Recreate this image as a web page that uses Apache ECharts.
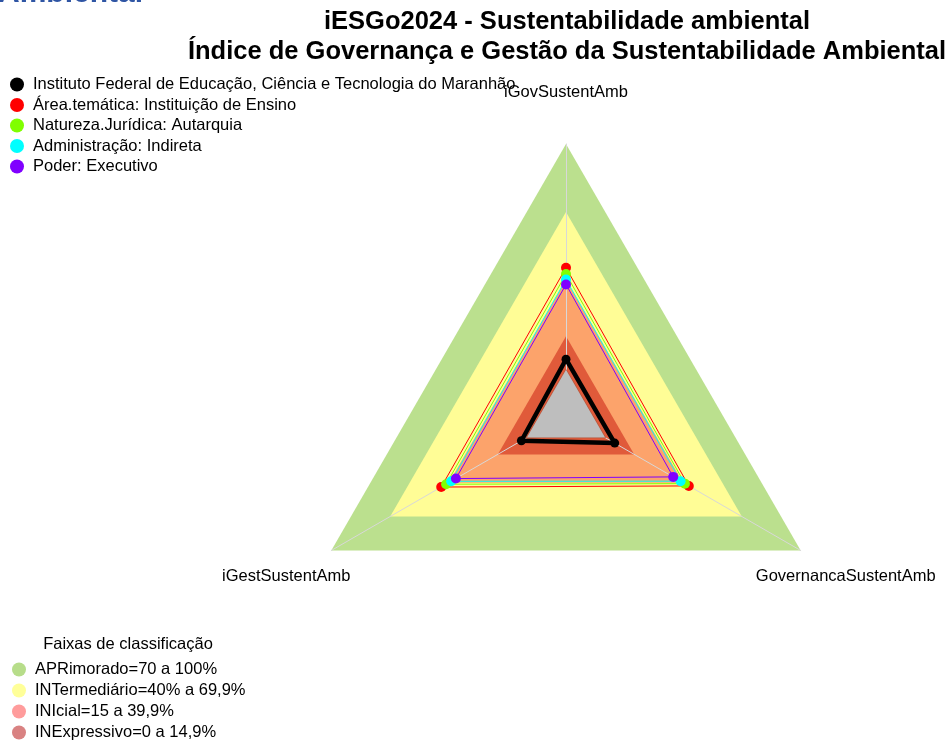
<!DOCTYPE html>
<html>
<head>
<meta charset="utf-8">
<script src="https://cdn.jsdelivr.net/npm/echarts@6/dist/echarts.min.js"></script>
<style>
  html, body { margin: 0; padding: 0; background: #ffffff; }
  #chart { width: 948px; height: 740px; }
</style>
</head>
<body>
<div id="chart"></div>
<script>
// Radar axes (indicators)
const indicators = ['iGovSustentAmb', 'iGestSustentAmb', 'GovernancaSustentAmb'];

// Compared groups and their scores (%) per indicator
const groupNames = [
  'Instituto Federal de Educação, Ciência e Tecnologia do Maranhão',
  'Área.temática: Instituição de Ensino',
  'Natureza.Jurídica: Autarquia',
  'Administração: Indireta',
  'Poder: Executivo'
];
const instituto        = [4.7, 2.8, 4.9];
const areaTematica     = [45.2, 43.8, 42.8];
const naturezaJuridica = [42.4, 41.3, 40.8];
const administracao    = [40.0, 38.7, 38.6];
const poder            = [37.8, 36.3, 34.8];
const groupValues = [instituto, areaTematica, naturezaJuridica, administracao, poder];
const groupColors = ['#000000', '#FF0000', '#80FF00', '#00FFFF', '#8000FF'];

// Classification bands (upper limit of each band, per indicator)
const bandNames = [
  'APRimorado=70 a 100%',
  'INTermediário=40% a 69,9%',
  'INIcial=15 a 39,9%',
  'INExpressivo=0 a 14,9%'
];
const bandValues = [
  [100, 100, 100],
  [69.9, 69.9, 69.9],
  [39.9, 39.9, 39.9],
  [14.9, 14.9, 14.9]
];
const bandFill = ['#BBE08E', '#FFFD96', '#FCA36B', '#E05A3A'];
const bandLegendColor = ['#B7DD8A', '#FFFF99', '#FF9C9C', '#D98282'];

// Baseline polygon at 0 %
const zeroValues = [0, 0, 0];

// Scale: 0 % sits one sixth of the way out from the centre
const scaleMin = -20;
const scaleMax = 100;

const FONT = '"Liberation Sans", Arial, sans-serif';

const chart = echarts.init(document.getElementById('chart'), null, { renderer: 'canvas' });

const series = [];

bandNames.forEach((name, i) => {
  series.push({
    type: 'radar',
    name: name,
    z: 1,
    silent: true,
    symbol: 'none',
    lineStyle: { width: 0, color: bandFill[i] },
    itemStyle: { color: bandFill[i] },
    areaStyle: { color: bandFill[i], opacity: 1 },
    data: [{ name: name, value: bandValues[i] }]
  });
});

series.push({
  type: 'radar',
  name: 'base',
  z: 3,
  silent: true,
  symbol: 'none',
  lineStyle: { width: 1.5, color: '#B4553A' },
  areaStyle: { color: '#BEBEBE', opacity: 1 },
  data: [{ name: 'base', value: zeroValues }]
});

groupNames.forEach((name, i) => {
  const isMain = i === 0;
  series.push({
    type: 'radar',
    name: name,
    z: 4 + i,
    symbol: 'circle',
    symbolSize: isMain ? 9 : 10,
    lineStyle: { width: isMain ? 4.5 : 1, color: groupColors[i] },
    itemStyle: { color: groupColors[i] },
    data: [{ name: name, value: groupValues[i] }]
  });
});

const legendText = { fontFamily: FONT, fontSize: 16.5, color: '#000' };

const option = {
  backgroundColor: '#ffffff',
  animation: false,
  title: [
    {
      text: 'iESGo2024 - Sustentabilidade ambiental\nÍndice de Governança e Gestão da Sustentabilidade Ambiental',
      left: 567,
      top: 7,
      padding: 0,
      textAlign: 'center',
      textStyle: { fontFamily: FONT, fontSize: 25.5, fontWeight: 'bold', color: '#000', lineHeight: 30 }
    },
    {
      text: 'Faixas de classificação',
      left: 128,
      top: 635,
      padding: 0,
      textAlign: 'center',
      textStyle: { fontFamily: FONT, fontSize: 16.5, fontWeight: 'normal', color: '#000', lineHeight: 18 }
    }
  ],
  graphic: [
    {
      type: 'text',
      x: -2,
      y: 9,
      silent: true,
      style: {
        text: 'Ambiental',
        font: 'bold 30px ' + FONT,
        fill: '#2F55A4',
        verticalAlign: 'bottom'
      }
    }
  ],
  legend: [
    {
      data: groupNames,
      orient: 'vertical',
      left: 10,
      top: 76,
      height: 140,
      padding: 0,
      itemWidth: 22,
      itemHeight: 14,
      itemGap: 3.5,
      icon: 'circle',
      selectedMode: false,
      textStyle: legendText
    },
    {
      data: bandNames.map((n, i) => ({ name: n, itemStyle: { color: bandLegendColor[i] } })),
      orient: 'vertical',
      left: 12,
      top: 661,
      height: 120,
      padding: 0,
      itemWidth: 22,
      itemHeight: 14,
      itemGap: 4,
      icon: 'circle',
      selectedMode: false,
      textStyle: legendText
    }
  ],
  radar: {
    center: [566, 415],
    radius: 271,
    startAngle: 90,
    shape: 'polygon',
    splitNumber: 1,
    z: 2,
    nameGap: 52,
    indicator: indicators.map(n => ({ name: n, min: scaleMin, max: scaleMax })),
    axisName: {
      color: '#000',
      fontFamily: FONT,
      fontSize: 16.5,
      align: 'center',
      verticalAlign: 'middle'
    },
    axisLine: { show: true, lineStyle: { color: '#D8D8D8', width: 1 } },
    splitLine: { show: false },
    splitArea: { show: false },
    axisTick: { show: false },
    axisLabel: { show: false }
  },
  series: series
};

chart.setOption(option);
</script>
</body>
</html>
